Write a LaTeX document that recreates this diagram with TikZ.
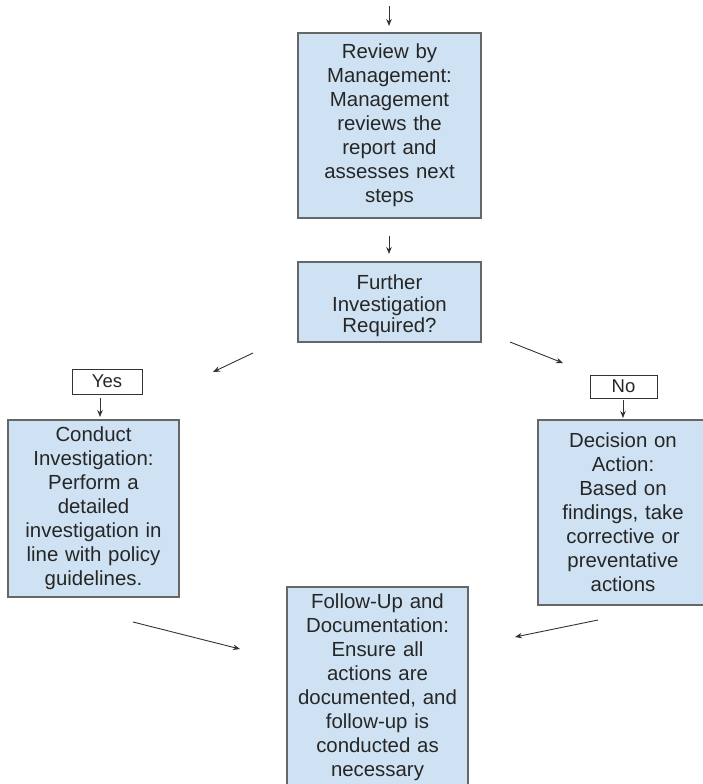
\documentclass[tikz,border=0pt]{standalone}
\usepackage{fontspec}
\setmainfont{Liberation Sans}
\usetikzlibrary{arrows.meta}
\definecolor{boxfill}{HTML}{CFE2F3}
\definecolor{boxline}{HTML}{666666}
\definecolor{txt}{HTML}{262626}
\definecolor{arr}{HTML}{333333}
\tikzset{
  procbox/.style={draw=boxline, line width=1.4pt, fill=boxfill, inner sep=0pt,
    align=center, text=txt, font=\fontsize{20.4}{24}\selectfont},
  tagbox/.style={draw=arr, line width=0.9pt, fill=white, inner sep=0pt,
    align=center, text=txt, font=\fontsize{18.5}{21}\selectfont},
  flow/.style={draw=arr, line width=0.9pt, -{Stealth[length=7pt,width=5.5pt]}}
}
\begin{document}
\begin{tikzpicture}[x=1pt,y=-1pt]
\useasboundingbox (0,0) rectangle (703,784);
\node[procbox, minimum width=183pt, minimum height=185pt, text width=178pt] (review) at (389.5,125.5)
  {Review by\\Management:\\Management\\reviews the\\report and\\assesses next\\steps};
\node[procbox, minimum width=183pt, minimum height=80pt, font=\fontsize{20.4}{21.5}\selectfont] (further) at (389.5,302)
  {\raisebox{-5pt}[\height][\depth]{\begin{tabular}{@{}c@{}}Further\\Investigation\\Required?\end{tabular}}};
\node[tagbox, minimum width=70pt, minimum height=25pt] (yes) at (107,381.5) {Yes};
\node[tagbox, minimum width=67pt, minimum height=23pt] (no) at (623.5,386.5) {No};
\node[procbox, minimum width=171pt, minimum height=177pt, text width=168pt] (conduct) at (93.5,508.5)
  {Conduct\\Investigation:\\Perform a\\detailed\\investigation in\\line with policy\\guidelines.};
\node[procbox, minimum width=170pt, minimum height=185pt, text width=166pt] (decision) at (623,512.5)
  {Decision on\\Action:\\Based on\\findings, take\\corrective or\\preventative\\actions};
\node[procbox, minimum width=181pt, minimum height=200pt, text width=176pt] (follow) at (377.5,687)
  {Follow-Up and\\Documentation:\\Ensure all\\actions are\\documented, and\\follow-up is\\conducted as\\necessary};
% free-standing arrow end points
\coordinate (a0s) at (389,6);
\coordinate (a0e) at (389,26);
\coordinate (a1s) at (389,236);
\coordinate (a1e) at (389,254);
\coordinate (a2s) at (253,353);
\coordinate (a2e) at (213,372);
\coordinate (a3s) at (510,342);
\coordinate (a3e) at (563,363);
\coordinate (a4s) at (100,398);
\coordinate (a4e) at (100,417);
\coordinate (a5s) at (623,400);
\coordinate (a5e) at (623,418);
\coordinate (a6s) at (133,622);
\coordinate (a6e) at (240,649);
\coordinate (a7s) at (598,620);
\coordinate (a7e) at (515,637);
\draw[flow] (a0s) -- (a0e);
\draw[flow] (a1s) -- (a1e);
\draw[flow] (a2s) -- (a2e);
\draw[flow] (a3s) -- (a3e);
\draw[flow] (a4s) -- (a4e);
\draw[flow] (a5s) -- (a5e);
\draw[flow] (a6s) -- (a6e);
\draw[flow] (a7s) -- (a7e);
\end{tikzpicture}
\end{document}
